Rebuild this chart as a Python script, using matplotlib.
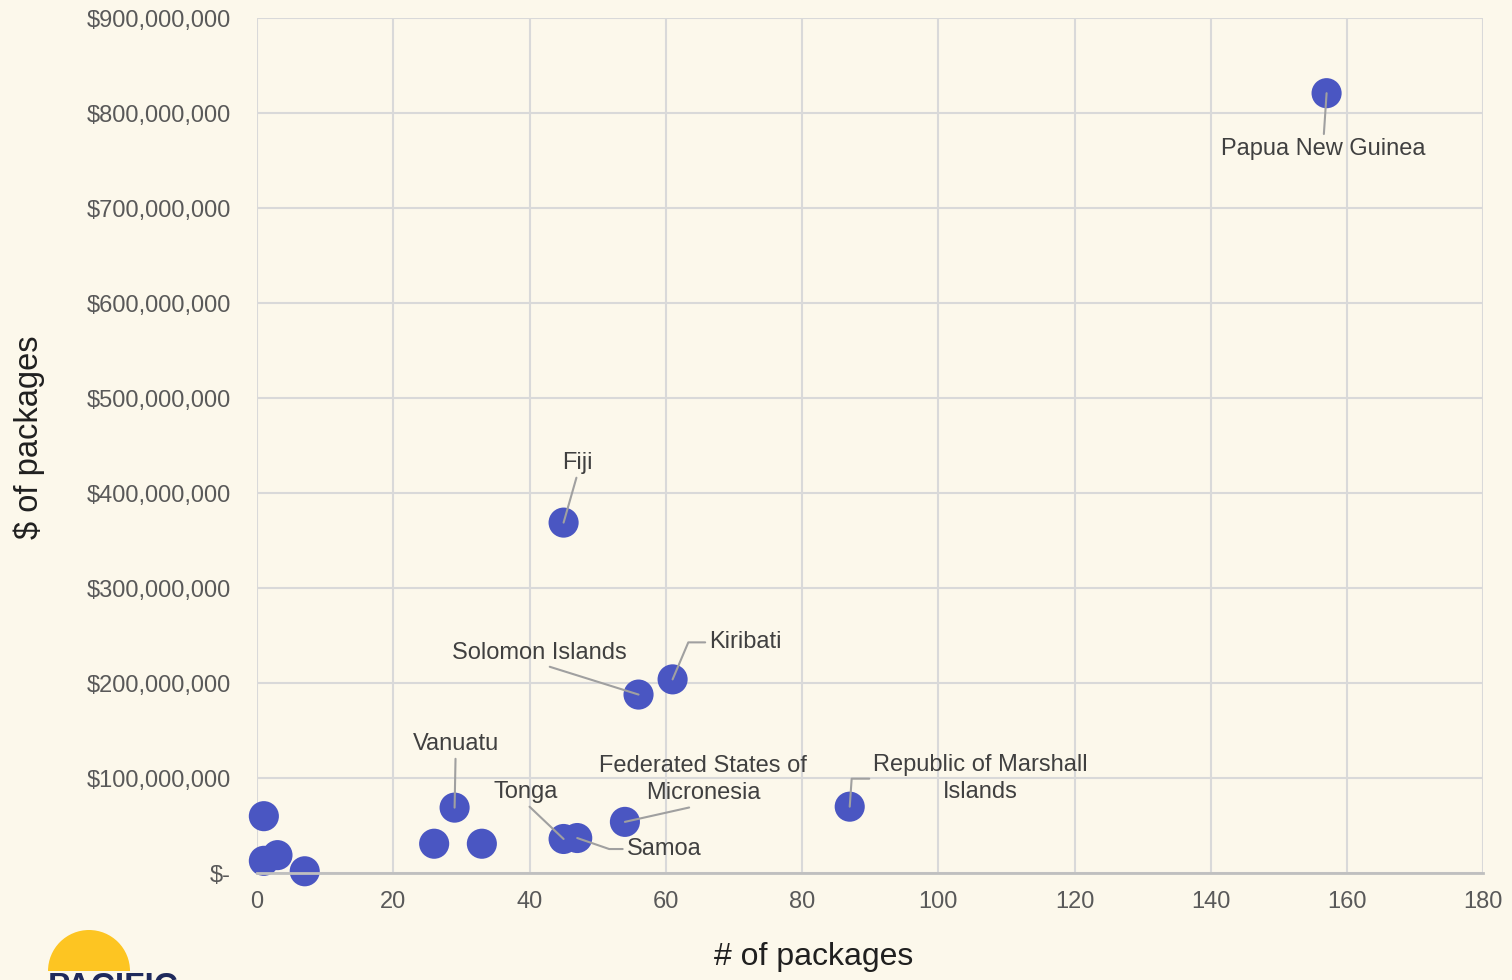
import matplotlib
matplotlib.use("Agg")
import matplotlib.pyplot as plt
from matplotlib.patches import Wedge
from matplotlib.ticker import FuncFormatter, MultipleLocator

# data
packages = [157, 45, 56, 61, 87, 54, 47, 45, 29, 26, 33, 1, 1, 3, 7]
dollars = [821e6, 369e6, 188e6, 204e6, 70e6, 54e6, 37e6, 36e6, 69e6,
           31e6, 31e6, 60e6, 13e6, 19e6, 2e6]
names = ["Papua New Guinea", "Fiji", "Solomon Islands", "Kiribati",
         "Republic of Marshall\nIslands", "Federated States of\nMicronesia",
         "Samoa", "Tonga", "Vanuatu", "", "", "", "", "", ""]

BG = "#fcf8eb"
DOT = "#4a56c2"
TXT = "#404040"
LEAD = "#a0a0a0"

# label placement: offset in px (right, up), leader start on text box, connection
label_style = {
    "Papua New Guinea": ((-3, -56), (0.5, 1.0), "arc3"),
    "Fiji": ((14, 60), (0.5, 0.0), "arc3"),
    "Solomon Islands": ((-99, 42), (0.5, 0.0), "arc3"),
    "Kiribati": ((73, 37), (0.0, 0.5), "angle,angleA=0,angleB=67,rad=0"),
    "Republic of Marshall\nIslands": ((131, 28), (0.0, 0.5), "angle,angleA=0,angleB=86,rad=0"),
    "Federated States of\nMicronesia": ((78, 42), (0.5, 0.0), "arc3"),
    "Samoa": ((87, -11), (0.0, 0.5), "angle,angleA=0,angleB=-19,rad=0"),
    "Tonga": ((-38, 47), (0.5, 0.0), "arc3"),
    "Vanuatu": ((1, 64), (0.5, 0.0), "arc3"),
}

plt.rcParams["font.family"] = ["Liberation Sans", "DejaVu Sans"]

fig = plt.figure(figsize=(15.12, 9.8), dpi=100, facecolor=BG)
ax = fig.add_axes([0.170, 0.109, 0.811, 0.8725])
ax.set_facecolor(BG)

ax.scatter(packages, dollars, s=470, color=DOT, edgecolors="none", zorder=2,
           clip_on=False)

px = 0.72
for x, y, name in zip(packages, dollars, names):
    if not name:
        continue
    (dx, dy), rel, conn = label_style[name]
    ax.annotate(name, (x, y), xytext=(dx * px, dy * px), textcoords="offset points",
                ha="center", va="center", multialignment="center",
                fontsize=17, color=TXT, linespacing=1.3, zorder=4,
                arrowprops=dict(arrowstyle="-", color=LEAD, lw=1.5,
                                shrinkA=1, shrinkB=0, relpos=rel,
                                connectionstyle=conn))

ax.set_xlim(0, 180)
ax.set_ylim(0, 900e6)
ax.xaxis.set_major_locator(MultipleLocator(20))
ax.yaxis.set_major_locator(MultipleLocator(100e6))
ax.yaxis.set_major_formatter(FuncFormatter(lambda v, p: "$-" if v == 0 else f"${v:,.0f}"))

ax.set_axisbelow(True)
ax.grid(True, color="#d9d9d9", lw=1.5)
for side in ["top", "right", "left"]:
    ax.spines[side].set_visible(False)
ax.spines["bottom"].set_color("#bfbfbf")
ax.spines["bottom"].set_linewidth(2)
ax.tick_params(length=0, labelsize=17, labelcolor="#595959")
ax.tick_params(axis="x", pad=13)
ax.tick_params(axis="y", pad=19)

ax.set_xlabel("# of packages", fontsize=23, color="#202020")
ax.set_ylabel("$ of packages", fontsize=23.5, color="#202020")
ax.xaxis.set_label_coords(0.4535, -0.081)
ax.yaxis.set_label_coords(-0.173, 0.51)

# logo in the bottom-left corner
lax = fig.add_axes([0, 0, 0.2, 0.1])
lax.set_xlim(0, 302.4)
lax.set_ylim(0, 98)
lax.set_aspect("equal")
lax.axis("off")
lax.add_patch(Wedge((89, 9), 41, 0, 180, color="#fdc522", lw=0))
lax.text(48, 8, "PACIFIC", fontsize=24, fontweight="bold", color="#1f2a5c",
         ha="left", va="top")

fig.savefig("out.png", dpi=100, facecolor=BG)
